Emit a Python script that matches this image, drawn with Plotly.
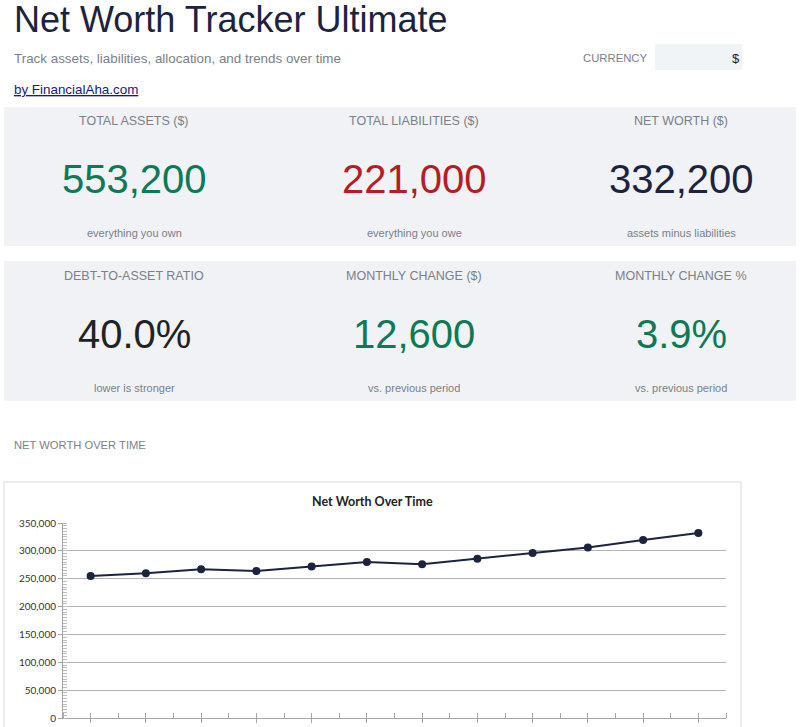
import plotly.graph_objects as go

# dati del grafico
mesi = ["Gen", "Feb", "Mar", "Apr", "Mag", "Giu", "Lug", "Ago", "Set", "Ott", "Nov", "Dic"]
patrimonio_netto = [255000, 260000, 267000, 264000, 272000, 280000,
                    276000, 286000, 296000, 306000, 319600, 332200]

# schede KPI: etichetta, valore, nota, colore
kpi_etichette = ["TOTAL ASSETS ($)", "TOTAL LIABILITIES ($)", "NET WORTH ($)",
                 "DEBT-TO-ASSET RATIO", "MONTHLY CHANGE ($)", "MONTHLY CHANGE %"]
kpi_valori = ["553,200", "221,000", "332,200", "40.0%", "12,600", "3.9%"]
kpi_note = ["everything you own", "everything you owe", "assets minus liabilities",
            "lower is stronger", "vs. previous period", "vs. previous period"]
kpi_colori = ["#0b7a55", "#b81c22", "#1b2340", "#222222", "#0b7a55", "#0b7a55"]

W, H = 800, 727
L, R, T, B = 63, 726, 523, 718


def px(x):
    return (x - L) / (R - L)


def py(y):
    return (B - y) / (B - T)


def testo(x, y, s, size, color, xanchor="center", family="Liberation Sans, Arial"):
    return dict(x=px(x), y=py(y), xref="paper", yref="paper", text=s, showarrow=False,
                xanchor=xanchor, yanchor="middle",
                font=dict(size=size, color=color, family=family))


def rett(x0, y0, x1, y1, fill, line=None):
    return dict(type="rect", xref="paper", yref="paper", x0=px(x0), x1=px(x1),
                y0=py(y1), y1=py(y0), fillcolor=fill, layer="below",
                line=dict(width=1 if line else 0, color=line or fill))


fig = go.Figure()
fig.add_trace(go.Scatter(
    x=list(range(len(mesi))), y=patrimonio_netto, mode="lines+markers",
    hovertext=mesi, line=dict(color="#1b2340", width=2),
    marker=dict(size=8, color="#1b2340"), showlegend=False
))

shapes = [
    rett(4, 107, 796, 246, "#f0f2f5"),
    rett(4, 261, 796, 401, "#f0f2f5"),
    rett(655, 44, 742, 70, "#f1f4f6"),
    rett(4, 482, 741, 760, "rgba(0,0,0,0)", "#d9d9d9"),
]

grigio = "#7a7f89"
ann = [
    testo(12, 19, "Net Worth Tracker Ultimate", 36, "#1b2340", "left"),
    testo(12, 58, "Track assets, liabilities, allocation, and trends over time", 13.4, grigio, "left"),
    testo(581, 58, "CURRENCY", 11.3, grigio, "left"),
    testo(742, 58, "$", 13, "#222222", "right"),
    testo(12, 89, "<u>by FinancialAha.com</u>", 13.4, "#1a1a80", "left"),
    testo(12, 445, "NET WORTH OVER TIME", 11.2, grigio, "left"),
    testo(372, 501, "<b>Net Worth Over Time</b>", 12.5, "#222222", family="Lato"),
]

centri = [134, 414, 681]
for i in range(len(kpi_etichette)):
    cx = centri[i % 3]
    riga = i // 3
    y0 = 121 + riga * 155
    ann.append(testo(cx, y0, kpi_etichette[i], 12.5, grigio))
    ann.append(testo(cx, y0 + 58, kpi_valori[i], 40, kpi_colori[i]))
    ann.append(testo(cx, y0 + 112, kpi_note[i], 11, grigio))

fig.update_layout(
    width=W, height=H,
    margin=dict(l=L, r=W - R, t=T, b=H - B),
    paper_bgcolor="white", plot_bgcolor="white",
    font=dict(family="Liberation Sans, Arial"),
    shapes=shapes, annotations=ann,
)
fig.update_xaxes(
    range=[-0.5, len(mesi) - 0.5], tickvals=list(range(len(mesi))), ticktext=mesi,
    showticklabels=False, showgrid=False, zeroline=False, automargin=False,
    showline=True, linecolor="#a6a6a6", ticks="outside", ticklen=4, tickcolor="#a6a6a6",
    minor=dict(dtick=0.5, tick0=-0.5, ticks="inside", ticklen=5, tickcolor="#a6a6a6"),
)
fig.update_yaxes(
    range=[0, 350000], dtick=50000, tickformat=",d", zeroline=False, automargin=False,
    showgrid=True, gridcolor="#b3b3b3", gridwidth=1,
    showline=True, linecolor="#a6a6a6", ticks="outside", ticklen=4, tickcolor="#a6a6a6",
    tickfont=dict(family="Lato", size=10, color="#333333"),
    minor=dict(dtick=5000, ticks="inside", ticklen=4, tickcolor="#bdbdbd", showgrid=False),
)

fig.write_html("out.html", config={"displayModeBar": False},
               post_script="document.body.style.margin='0';")
